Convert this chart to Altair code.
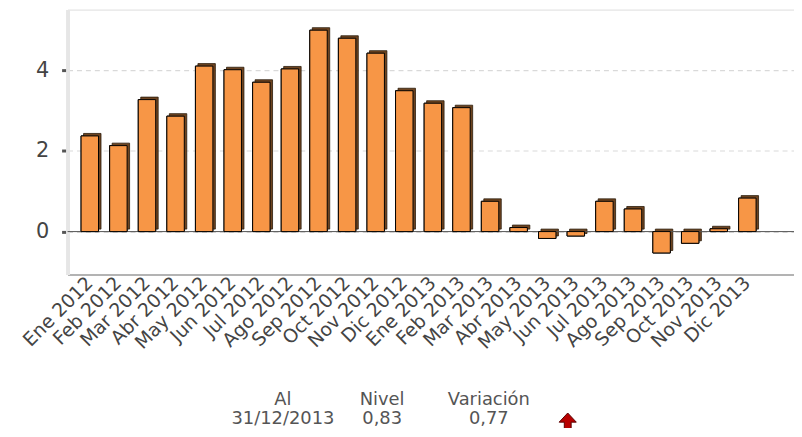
import altair as alt
import pandas as pd

months = ["Ene 2012", "Feb 2012", "Mar 2012", "Abr 2012", "May 2012", "Jun 2012",
          "Jul 2012", "Ago 2012", "Sep 2012", "Oct 2012", "Nov 2012", "Dic 2012",
          "Ene 2013", "Feb 2013", "Mar 2013", "Abr 2013", "May 2013", "Jun 2013",
          "Jul 2013", "Ago 2013", "Sep 2013", "Oct 2013", "Nov 2013", "Dic 2013"]
values = [2.37, 2.13, 3.27, 2.86, 4.10, 4.01, 3.70, 4.03, 4.99, 4.79, 4.42, 3.49,
          3.18, 3.07, 0.75, 0.10, -0.17, -0.11, 0.75, 0.56, -0.53, -0.29, 0.07, 0.83]
y_ticks = [0, 2, 4]

headers = ["Al", "Nivel", "Variación"]
summary = ["31/12/2013", "0,83", "0,77"]

df = pd.DataFrame({"mes": months, "valor": values})

W, H = 732, 267
FONT = "DejaVu Sans"

x_enc = alt.X("mes:N", sort=months,
              scale=alt.Scale(paddingInner=0.39, paddingOuter=0.9, align=0.263, round=False),
              axis=alt.Axis(title=None, labelAngle=-45, labelAlign="right", labelBaseline="middle",
                            labelFont=FONT, labelFontSize=19, labelColor="#444444",
                            labelPadding=5, ticks=False, grid=False,
                            domainColor="#b3b3b3", domainWidth=2, labelOverlap=False))
y_enc = alt.Y("valor:Q",
              scale=alt.Scale(domain=[-1.065, 5.5], nice=False, zero=False),
              axis=alt.Axis(title=None, values=y_ticks, labelFont=FONT, labelFontSize=21,
                            labelColor="#444444", labelPadding=13, tickSize=6, tickWidth=3,
                            tickColor="#555555", domainColor="#e6e6e6", domainWidth=4,
                            gridColor="#d9d9d9", gridDash=[5, 4], gridWidth=1.2))

base = alt.Chart(df)

back = base.mark_bar(xOffset=2.5, yOffset=-2.5, color="#6e4420", stroke="#2a1a0a",
                     strokeWidth=0.8).encode(x=x_enc, y=y_enc)
front = base.mark_bar(color="#F79646", stroke="#000000", strokeWidth=1).encode(x=x_enc, y=y_enc)

zero = alt.Chart(pd.DataFrame({"z": [0]})).mark_rule(color="#555555", strokeWidth=1).encode(
    y=alt.datum(0))

col_x = [217, 317, 424.5]
hdr_df = pd.DataFrame({"t": headers, "px": col_x})
sum_df = pd.DataFrame({"t": summary, "px": col_x})

hdr = alt.Chart(hdr_df).mark_text(font=FONT, fontSize=18, color="#555555", baseline="alphabetic",
                                  align="center").encode(
    x=alt.X("px:Q", scale=None), y=alt.value(398), text="t:N")
summ = alt.Chart(sum_df).mark_text(font=FONT, fontSize=18, color="#555555", baseline="alphabetic",
                                   align="center").encode(
    x=alt.X("px:Q", scale=None), y=alt.value(418), text="t:N")

arrow_path = "M0,-1 L0.75,-0.2 L0.3,-0.2 L0.3,1 L-0.3,1 L-0.3,-0.2 L-0.75,-0.2 Z"
arrow = alt.Chart(pd.DataFrame({"a": [1]})).mark_point(
    shape=arrow_path, size=529, filled=True, fill="#b80000", stroke="#5a0000",
    strokeWidth=1, opacity=1).encode(x=alt.value(504), y=alt.value(418))

chart = alt.layer(front, back, zero, front, hdr, summ, arrow).properties(
    width=W, height=H,
    autosize=alt.AutoSizeParams(type="none"),
    padding={"left": 60, "top": 0, "right": 0, "bottom": 153},
).configure_view(stroke=None).configure(background="white")

chart.save("out.html", embed_options={"renderer": "svg", "actions": False})
